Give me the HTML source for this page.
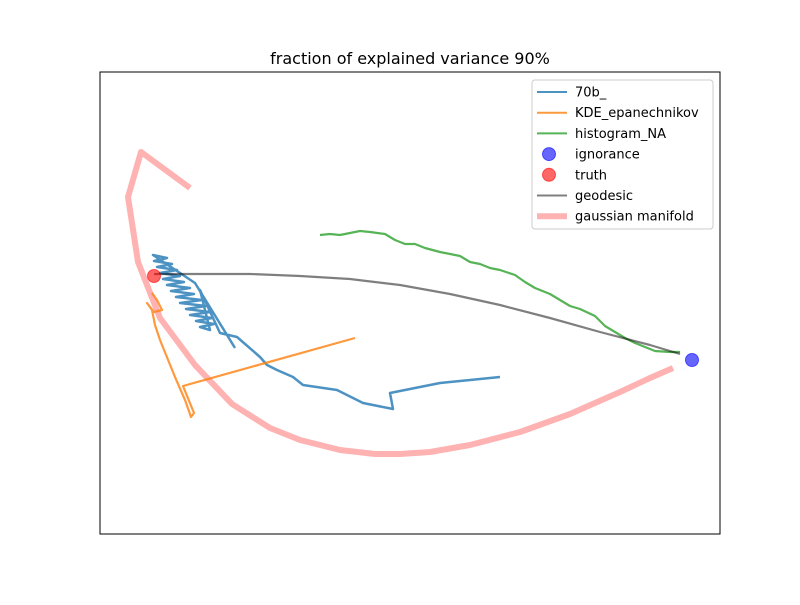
<!DOCTYPE html>
<html><head><meta charset="utf-8"><style>
body{margin:0;background:#fff}
svg text{font-family:"DejaVu Sans","Liberation Sans",sans-serif}
</style></head><body>
<svg id="chart" width="800" height="600" xmlns="http://www.w3.org/2000/svg">
<rect width="800" height="600" fill="#fff"/>
<text x="410" y="64" text-anchor="middle" font-size="16">fraction of explained variance 90%</text>
<g id="plot"></g>
<rect x="100" y="72" width="620" height="462" fill="none" stroke="#000" stroke-width="1"/>
<g id="legend"></g>
</svg>
<script>
// data in axis units (x: 0..620, y: 0..462, y up)
const manifoldX=[90,41,28,38,60,95,132,170,200,240,275,300,330,370,420,470,520,550,573];
const manifoldY=[346,382,337,272,216,169,130,106,94,84,80,80,82,89,102,120,142,156,166];
const geodesicX=[54,100,150,200,250,300,350,400,450,500,550,580];
const geodesicY=[260,260,260,258,255,249,240,229,216,202,189,180];
const histX=[220,230,240,250,260,270,285,295,305,315,325,340,360,370,380,390,400,415,425,435,450,460,470,480,495,505,515,525,535,545,555,570,580];
const histY=[299,300,299,301,303,302,300,294,290,290,286,282,278,272,270,266,264,259,252,246,240,234,228,225,218,208,202,196,191,187,183,182,182];
const kdeX=[52,57,62,54,47,52,55,60,75,85,91,94,83,255];
const kdeY=[241,234,224,222,231,224,209,194,157,134,117,121,148,196];
const blueX=[135,95,53,67,54,72,57,77,60,80,63,84,67,90,71,94,76,102,80,106,86,110,90,112,96,114,100,110,100,120,137,160,167,177,193,203,237,263,293,290,340,400];
const blueY=[186,251,279,276,273,270,267,264,261,258,255,252,249,246,243,240,237,234,231,228,225,222,219,216,213,210,207,204,244,201,197,177,169,164,157,149,144,131,125,141,151,157];
const ignorance=[592,174];
const truth=[54,258];
const xs=v=>100+v*620/620, ys=v=>534-v*462/462;
const NS='http://www.w3.org/2000/svg';
const plot=document.getElementById('plot');
function line(X,Y,color,w,op,name){
  const p=document.createElementNS(NS,'polyline');
  p.setAttribute('points',X.map((x,i)=>xs(x)+','+ys(Y[i])).join(' '));
  p.setAttribute('fill','none');p.setAttribute('stroke',color);p.setAttribute('stroke-width',w);
  p.setAttribute('stroke-opacity',op);p.setAttribute('stroke-linejoin','round');p.setAttribute('stroke-linecap','butt');
  
  
  plot.appendChild(p);
}
function dot(pt,color,name){
  const c=document.createElementNS(NS,'circle');
  c.setAttribute('cx',xs(pt[0]));c.setAttribute('cy',ys(pt[1]));c.setAttribute('r',6.5);
  c.setAttribute('fill',color);c.setAttribute('fill-opacity',0.6);c.setAttribute('stroke',color);c.setAttribute('stroke-opacity',0.6);
  
  
  plot.appendChild(c);
}
line(manifoldX,manifoldY,'#ff0000',6,0.3,'gaussian-manifold-line');
line(blueX,blueY,'#1f77b4',2.5,0.8,'70b-line');
line(kdeX,kdeY,'#ff7f0e',2.2,0.8,'kde-epanechnikov-line');
line(histX,histY,'#2ca02c',2.2,0.8,'histogram-na-line');
line(geodesicX,geodesicY,'#000',2.2,0.5,'geodesic-line');
dot(ignorance,'#0000ff','ignorance-point');
dot(truth,'#ff0000','truth-point');
const lg=document.getElementById('legend');
const box=document.createElementNS(NS,'rect');
box.setAttribute('x',532);box.setAttribute('y',80);box.setAttribute('width',181);box.setAttribute('height',149);
box.setAttribute('rx',3);box.setAttribute('fill','#fff');box.setAttribute('fill-opacity',0.8);box.setAttribute('stroke','#ccc');
lg.appendChild(box);
const entries=[['70b_','#1f77b4','l',2,0.8],['KDE_epanechnikov','#ff7f0e','l',2,0.8],['histogram_NA','#2ca02c','l',2,0.8],['ignorance','#0000ff','d'],['truth','#ff0000','d'],['geodesic','#000','l',2,0.5],['gaussian manifold','#ff0000','l',6,0.3]];
entries.forEach((e,i)=>{
  const y=92+i*20.7;
  const g=document.createElementNS(NS,'g');
  
  
  let m;
  if(e[2]==='l'){m=document.createElementNS(NS,'line');m.setAttribute('x1',537);m.setAttribute('x2',567);m.setAttribute('y1',y);m.setAttribute('y2',y);m.setAttribute('stroke',e[1]);m.setAttribute('stroke-width',e[3]);m.setAttribute('stroke-opacity',e[4]);}
  else{m=document.createElementNS(NS,'circle');m.setAttribute('cx',549);m.setAttribute('cy',y);m.setAttribute('r',6.5);m.setAttribute('fill',e[1]);m.setAttribute('fill-opacity',0.6);m.setAttribute('stroke',e[1]);m.setAttribute('stroke-opacity',0.6);}
  g.appendChild(m);
  const t=document.createElementNS(NS,'text');
  t.setAttribute('x',575);t.setAttribute('y',y+4.5);t.setAttribute('font-size',13);t.textContent=e[0];
  g.appendChild(t);lg.appendChild(g);
});
</script>
</body></html>
